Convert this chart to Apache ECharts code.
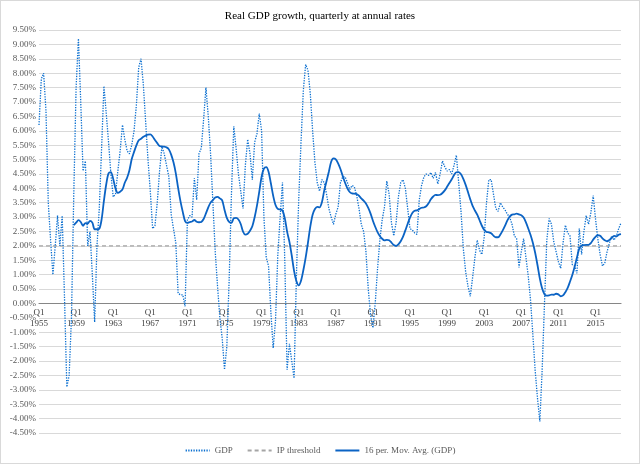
<!DOCTYPE html>
<html>
<head>
<meta charset="utf-8">
<script src="https://cdn.jsdelivr.net/npm/echarts@6/dist/echarts.min.js"></script>
<style>
  html, body { margin: 0; padding: 0; background: #fff; }
  #chart { width: 638px; height: 462px; border: 1px solid #d9d9d9; }
</style>
</head>
<body>
<div id="chart"></div>
<script>
// quarterly real GDP growth (%), 1955 Q1 .. 2017 Q4
const firstYear = 1955
const gdp = [
  6.2, 7.8, 8.0, 6.7, 3.5, 2.2, 1.0, 2.0, 3.05, 2.0, 3.05, 0.2, -2.9, -2.5, -0.5, 3.8,
  7.5, 9.2, 7.0, 4.6, 4.95, 2.0, 2.5, 1.0, -0.65, 2.0, 3.3, 5.4, 7.55, 6.6, 5.6, 4.5,
  3.7, 3.8, 4.6, 5.3, 6.2, 5.7, 5.3, 5.2, 5.5, 6.0, 6.9, 8.2, 8.5, 7.6, 6.3, 5.0,
  3.9, 2.6, 2.7, 3.5, 4.6, 5.45, 5.2, 4.8, 4.4, 3.1, 2.6, 2.1, 0.35, 0.3, 0.3, -0.1,
  2.9, 3.05, 3.0, 4.35, 3.6, 5.2, 5.4, 6.4, 7.5, 6.5, 5.2, 3.5, 1.8, 0.6, -0.5, -1.2,
  -2.3, -1.5, 0.8, 3.8, 6.15, 5.4, 4.5, 3.9, 3.3, 4.8, 5.7, 5.2, 4.3, 5.6, 5.9, 6.6,
  6.0, 3.0, 1.6, 1.3, -0.3, -1.55, -0.6, 1.7, 3.0, 4.2, 1.5, -2.3, -1.4, -2.0, -2.6, 0.9,
  3.6, 5.6, 7.4, 8.3, 8.1, 7.3, 6.0, 4.9, 4.2, 3.9, 4.3, 4.2, 3.8, 3.3, 3.0, 2.75,
  3.1, 3.35, 4.2, 4.4, 4.4, 4.2, 3.95, 4.1, 4.05, 3.75, 3.3, 2.75, 2.5, 1.8, 0.5, -0.4,
  -0.85, 0.0, 1.2, 2.2, 2.9, 3.35, 4.25, 3.8, 2.8, 2.35, 2.8, 3.7, 4.2, 4.3, 4.0, 3.3,
  2.6, 2.55, 2.45, 2.4, 3.6, 4.1, 4.4, 4.5, 4.45, 4.55, 4.35, 4.55, 4.15, 4.5, 4.95, 4.75,
  4.6, 4.65, 4.5, 4.8, 5.15, 4.2, 3.2, 1.9, 1.1, 0.6, 0.25, 0.9, 1.6, 2.2, 1.85, 1.7,
  2.3, 3.5, 4.3, 4.3, 3.8, 3.3, 3.2, 3.5, 3.35, 3.25, 3.1, 3.0, 2.75, 2.35, 2.25, 1.25,
  1.8, 2.25, 1.6, 0.95, 0.1, -1.1, -2.35, -3.3, -4.1, -2.3, 0.0, 2.2, 2.95, 2.75, 2.15, 1.8,
  1.45, 1.22, 2.1, 2.72, 2.45, 2.35, 1.35, 1.3, 1.05, 2.6, 1.7, 2.5, 3.05, 2.75, 3.15, 3.75,
  2.95, 2.25, 1.7, 1.3, 1.4, 1.8, 2.1, 2.35, 2.2, 2.35, 2.6, 2.8
]
const ipThreshold = 2.0
const maPeriod = 16
const yMin = -4.5
const yMax = 9.5

const quarters = gdp.map((v, i) => 'Q' + (i % 4 + 1) + '\n' + (firstYear + Math.floor(i / 4)))
const threshold = gdp.map(() => ipThreshold)
// Excel-style trailing moving average trendline
const movAvg = gdp.map((v, i) => {
  if (i < maPeriod - 1) return '-'
  let s = 0
  for (let k = i - maPeriod + 1; k <= i; k++) s += gdp[k]
  return +(s / maPeriod).toFixed(3)
})

const W = 638, H = 462
const grid = { left: 38, right: 18, top: 29, bottom: 30 }
// category axis sits on the zero line (labels just below it)
const plotH = H - grid.top - grid.bottom
const zeroOffset = -(0 - yMin) / (yMax - yMin) * plotH

const chart = echarts.init(document.getElementById('chart'))
const serif = 'Liberation Serif'

chart.setOption({
  animation: false,
  backgroundColor: '#fff',
  title: {
    text: 'Real GDP growth, quarterly at annual rates',
    left: 'center',
    top: 5,
    textStyle: { fontFamily: serif, fontSize: 11, fontWeight: 'normal', color: '#000' }
  },
  legend: {
    bottom: 3,
    left: 'center',
    itemWidth: 24,
    itemHeight: 8,
    itemGap: 14,
    itemStyle: { opacity: 0 },
    textStyle: { fontFamily: serif, fontSize: 9, color: '#595959' },
    data: ['GDP', 'IP threshold', '16 per. Mov. Avg. (GDP)']
  },
  grid: grid,
  xAxis: {
    type: 'category',
    data: quarters,
    boundaryGap: false,
    offset: zeroOffset,
    axisLine: { onZero: false, lineStyle: { color: '#868686', width: 1.2 } },
    axisTick: { show: false },
    axisLabel: {
      interval: 15,
      fontFamily: serif,
      fontSize: 9,
      lineHeight: 11,
      color: '#404040',
      margin: 4
    },
    splitLine: { show: false }
  },
  yAxis: {
    type: 'value',
    min: yMin,
    max: yMax,
    interval: 0.5,
    axisLine: { show: false },
    axisTick: { show: false },
    axisLabel: {
      fontFamily: serif,
      fontSize: 9,
      color: '#595959',
      margin: 3,
      formatter: v => v.toFixed(2) + '%'
    },
    splitLine: { lineStyle: { color: '#d9d9d9', width: 1 } }
  },
  series: [
    {
      name: 'GDP',
      type: 'line',
      data: gdp,
      symbol: 'none',
      lineStyle: { color: '#0a6fd0', width: 1.3, type: [1.3, 1.3] },
      itemStyle: { color: '#0a6fd0' },
      z: 2
    },
    {
      name: 'IP threshold',
      type: 'line',
      data: threshold,
      symbol: 'none',
      lineStyle: { color: '#a5a5a5', width: 1.3, type: [4, 3] },
      itemStyle: { color: '#a5a5a5' },
      z: 1
    },
    {
      name: '16 per. Mov. Avg. (GDP)',
      type: 'line',
      data: movAvg,
      symbol: 'none',
      smooth: 0.3,
      lineStyle: { color: '#0b63c4', width: 1.8 },
      itemStyle: { color: '#0b63c4' },
      z: 3
    }
  ]
})
</script>
</body>
</html>
